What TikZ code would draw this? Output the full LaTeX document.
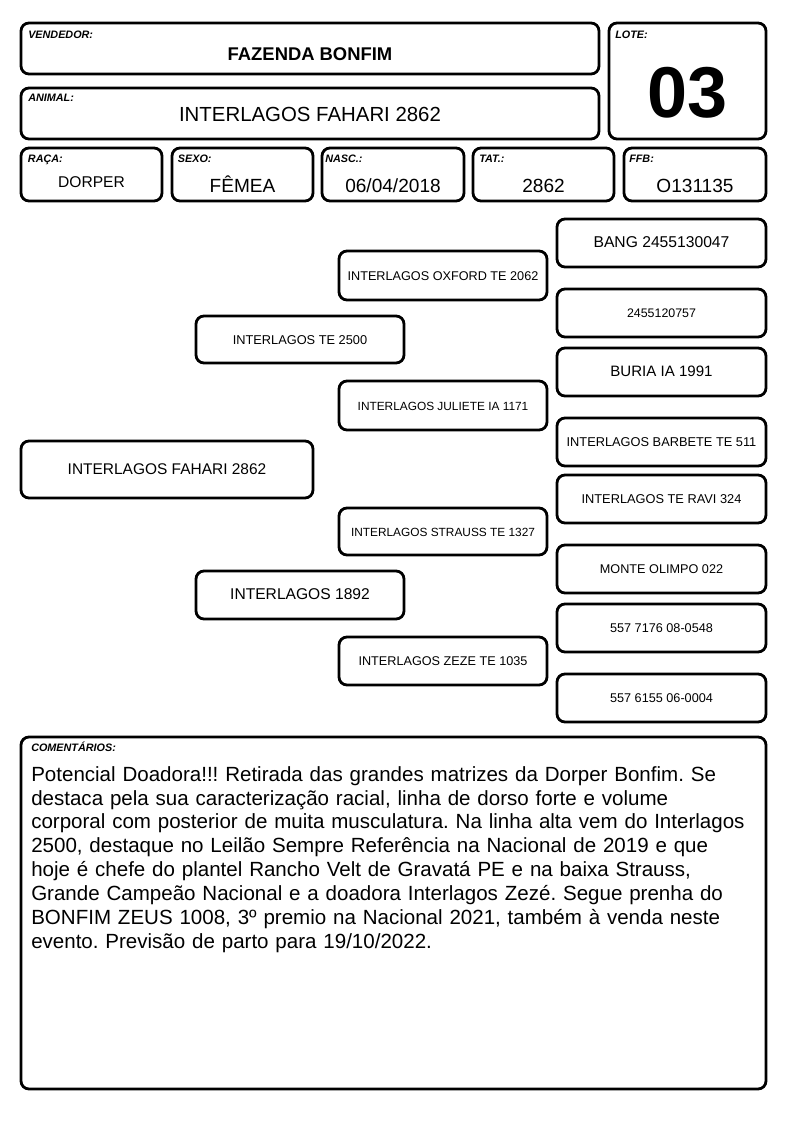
\documentclass[tikz,border=0pt]{standalone}
\usepackage{fontspec}
\setmainfont{Liberation Sans}
\frenchspacing
\begin{document}
\begin{tikzpicture}[x=0.75pt,y=-0.75pt,
  box/.style={draw=black,line width=2.1pt,rounded corners=6pt,inner sep=0pt,outer sep=0pt,text height=0.716em,text depth=0pt,align=center},
  lbl/.style={anchor=base west,inner sep=0pt,font=\fontsize{8.1pt}{9pt}\selectfont\bfseries\itshape},
  val/.style={anchor=base,inner sep=0pt}]
\useasboundingbox (0,0) rectangle (794,1123);
% header boxes
\node[box,minimum width=433.5pt,minimum height=38.25pt] (vend) at (310,48.5) {};
\node[box,minimum width=433.5pt,minimum height=38.25pt] (anim) at (310,113.5) {};
\node[box,minimum width=117.75pt,minimum height=87pt] (lote) at (687.5,81) {};
\node[box,minimum width=105.75pt,minimum height=39.75pt] (raca) at (91.5,174.5) {};
\node[box,minimum width=105.75pt,minimum height=39.75pt] (sexo) at (242.5,174.5) {};
\node[box,minimum width=106.5pt,minimum height=39.75pt] (nasc) at (393,174.5) {};
\node[box,minimum width=105.75pt,minimum height=39.75pt] (tat) at (543.5,174.5) {};
\node[box,minimum width=106.5pt,minimum height=39.75pt] (ffb) at (695,174.5) {};
% labels
\node[lbl] (lvend) at (28,38.7) {VENDEDOR:};
\node[lbl] (lanim) at (28,102) {ANIMAL:};
\node[lbl] (llote) at (615,38.7) {LOTE:};
\node[lbl] (lraca) at (27.7,163) {RAÇA:};
\node[lbl] (lsexo) at (177.7,163) {SEXO:};
\node[lbl] (lnasc) at (325,163) {NASC.:};
\node[lbl] (ltat) at (479,163) {TAT.:};
\node[lbl] (lffb) at (629,163) {FFB:};
% values
\node[val,font=\fontsize{13.8pt}{16pt}\selectfont\bfseries] (vvend) at (310,60.5) {FAZENDA BONFIM};
\node[val,font=\fontsize{15.3pt}{18pt}\selectfont] (vanim) at (310,122) {INTERLAGOS FAHARI 2862};
\node[val,font=\fontsize{54pt}{60pt}\selectfont\bfseries] (vlote) at (687.5,118) {03};
\node[val,font=\fontsize{11.7pt}{14pt}\selectfont] (vraca) at (91.5,188) {DORPER};
\node[val,font=\fontsize{14.3pt}{17pt}\selectfont] (vsexo) at (242.5,193) {FÊMEA};
\node[val,font=\fontsize{14.3pt}{17pt}\selectfont] (vnasc) at (393,193) {06/04/2018};
\node[val,font=\fontsize{14.3pt}{17pt}\selectfont] (vtat) at (543.5,193) {2862};
\node[val,font=\fontsize{14.3pt}{17pt}\selectfont] (vffb) at (695,193) {O131135};
% pedigree
\node[box,minimum width=219pt,minimum height=42.75pt,font=\fontsize{11.6pt}{14pt}\selectfont] (p0) at (167,469.5) {INTERLAGOS FAHARI 2862};
\node[box,minimum width=156pt,minimum height=35.25pt,font=\fontsize{9.6pt}{12pt}\selectfont] (p1) at (300,339.5) {INTERLAGOS TE 2500};
\node[box,minimum width=156pt,minimum height=36pt,font=\fontsize{11.7pt}{14pt}\selectfont] (p2) at (300,595) {INTERLAGOS 1892};
\node[box,minimum width=156pt,minimum height=36.75pt,font=\fontsize{9.5pt}{12pt}\selectfont] (p11) at (443,275.5) {INTERLAGOS OXFORD TE 2062};
\node[box,minimum width=156pt,minimum height=36.75pt,font=\fontsize{8.9pt}{11pt}\selectfont] (p12) at (443,405.5) {INTERLAGOS JULIETE IA 1171};
\node[box,minimum width=156pt,minimum height=35.25pt,font=\fontsize{8.9pt}{11pt}\selectfont] (p21) at (443,531.5) {INTERLAGOS STRAUSS TE 1327};
\node[box,minimum width=156pt,minimum height=36pt,font=\fontsize{9.5pt}{12pt}\selectfont] (p22) at (443,661) {INTERLAGOS ZEZE TE 1035};
\node[box,minimum width=156.75pt,minimum height=36pt,font=\fontsize{11.75pt}{14pt}\selectfont] (p111) at (661.5,243) {BANG 2455130047};
\node[box,minimum width=156.75pt,minimum height=36pt,font=\fontsize{9.3pt}{12pt}\selectfont] (p112) at (661.5,313) {2455120757};
\node[box,minimum width=156.75pt,minimum height=36pt,font=\fontsize{11.3pt}{14pt}\selectfont] (p121) at (661.5,372) {BURIA IA 1991};
\node[box,minimum width=156.75pt,minimum height=36pt,font=\fontsize{9.6pt}{12pt}\selectfont] (p122) at (661.5,442) {INTERLAGOS BARBETE TE 511};
\node[box,minimum width=156.75pt,minimum height=36pt,font=\fontsize{9.6pt}{12pt}\selectfont] (p211) at (661.5,499) {INTERLAGOS TE RAVI 324};
\node[box,minimum width=156.75pt,minimum height=36pt,font=\fontsize{9.5pt}{12pt}\selectfont] (p212) at (661.5,569) {MONTE OLIMPO 022};
\node[box,minimum width=156.75pt,minimum height=36pt,font=\fontsize{9.5pt}{12pt}\selectfont] (p221) at (661.5,628) {557 7176 08-0548};
\node[box,minimum width=156.75pt,minimum height=36pt,font=\fontsize{9.5pt}{12pt}\selectfont] (p222) at (661.5,698) {557 6155 06-0004};
% comments
\node[box,minimum width=558.75pt,minimum height=264pt] (com) at (393.5,913) {};
\node[lbl] (lcom) at (31,751) {COMENTÁRIOS:};
\node[anchor=north west,inner sep=0pt,text width=555pt,align=left,font=\fontsize{15.4pt}{17.9pt}\selectfont] (tcom) at (31,766) {Potencial Doadora!!! Retirada das grandes matrizes da Dorper Bonfim. Se\\
destaca pela sua caracterização racial, linha de dorso forte e volume\\
corporal com posterior de muita musculatura. Na linha alta vem do Interlagos\\
2500, destaque no Leilão Sempre Referência na Nacional de 2019 e que\\
hoje é chefe do plantel Rancho Velt de Gravatá PE e na baixa Strauss,\\
Grande Campeão Nacional e a doadora Interlagos Zezé. Segue prenha do\\
BONFIM ZEUS 1008, 3º premio na Nacional 2021, também à venda neste\\
evento. Previsão de parto para 19/10/2022.};
\end{tikzpicture}
\end{document}
